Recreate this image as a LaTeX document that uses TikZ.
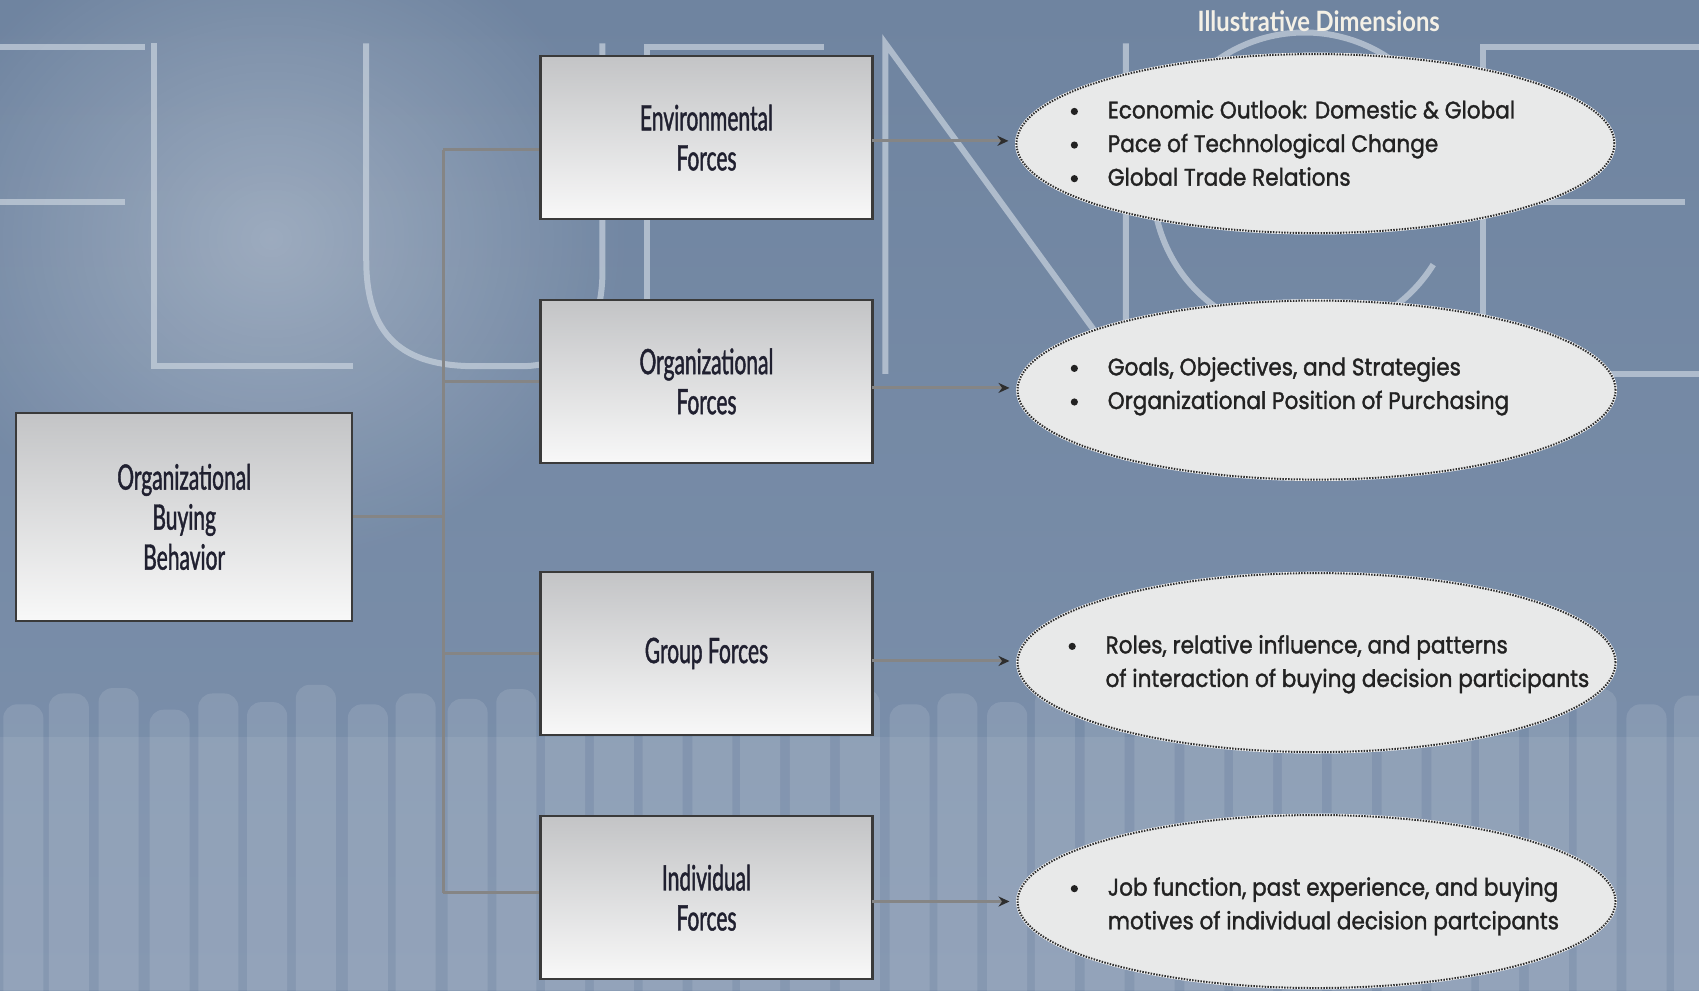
\documentclass[tikz,border=0pt]{standalone}
\usepackage{fontspec}
\usetikzlibrary{arrows.meta,shapes.geometric,calc,fadings}
\tikzfading[name=glowfade, inner color=transparent!0, outer color=transparent!100]
\newfontfamily\boxfont[FakeStretch=0.6, FakeBold=1.2]{Lato}
\newfontfamily\titlefont[FakeStretch=0.85]{Lato}
\newfontfamily\ellfont[FakeStretch=0.9, FakeBold=1.4]{Poppins}
\definecolor{bgtop}{HTML}{6F84A0}
\definecolor{bgbot}{HTML}{7D91AC}
\definecolor{lettc}{HTML}{C9D3DE}
\definecolor{boxtop}{HTML}{C3C4C6}
\definecolor{boxbot}{HTML}{F8F8F8}
\definecolor{boxline}{HTML}{3A3A3A}
\definecolor{textc}{HTML}{202030}
\definecolor{textd}{HTML}{222222}
\definecolor{ellfill}{HTML}{E8E9E9}
\definecolor{ellline}{HTML}{2E2E2E}
\definecolor{connc}{HTML}{858585}
\definecolor{arrc}{HTML}{2E2E2E}
\definecolor{ttlc}{HTML}{F4F0E6}
\newcommand\bul{\makebox[37pt][l]{\tikz[baseline=-7pt]\fill[textd] (0,0) circle[radius=3.6pt];}}
\newcommand\nobul{\makebox[37pt][l]{}}
\tikzset{
  letter/.style={draw=lettc, line width=6pt, opacity=0.7, line cap=butt},
  fencecol/.style={fill=white, opacity=0.11, rounded corners=14pt},
  fbox/.style={draw=boxline, line width=2.5pt, top color=boxtop, bottom color=boxbot,
    font=\boxfont\fontsize{35}{40}\selectfont, text=textc, align=center, inner sep=0pt,
    minimum width=332pt, minimum height=163pt},
  ell/.style={ellipse, fill=ellfill, draw=ellline, line width=2pt,
    dash pattern=on 1.5pt off 1.3pt, preaction={draw=white, line width=2.8pt, solid},
    inner sep=0pt, minimum width=598pt, minimum height=179pt},
  etext/.style={anchor=west, inner sep=0pt, align=left,
    font=\ellfont\fontsize{24}{33.6}\selectfont, text=textd},
  conn/.style={draw=connc, line width=3pt},
  arr/.style={conn, -{Stealth[length=11pt, width=10pt, color=arrc]}, shorten >=7pt},
  ttl/.style={font=\titlefont\bfseries\fontsize{28}{30}\selectfont, text=ttlc, inner sep=0pt}
}
\begin{document}
\begin{tikzpicture}[x=1.0835pt, y=-1.0835pt]
\useasboundingbox (0,0) rectangle (1568,914);
% ---------- background ----------
\begin{scope}
\clip (0,0) rectangle (1568,914);
\shade[top color=bgtop, bottom color=bgbot] (0,0) rectangle (1568,914);
\fill[white, opacity=0.30, path fading=glowfade] (250,220) ellipse [x radius=330, y radius=300];
% fence columns
\foreach \x/\t in {0/650,42/640,88/635,135/655,180/640,225/648,270/632,318/650,362/640,
  410/645,455/636,500/650,545/640,590/648,636/638,680/650,726/642,772/636,818/650,862/640,
  908/648,952/636,998/650,1044/640,1090/646,1135/636,1180/650,1226/642,1272/638,1318/650,
  1362/640,1408/646,1452/636,1498/650,1542/642}{
  \fill[fencecol] (\x+3,\t) rectangle (\x+40,960);
}
\fill[white, opacity=0.07] (0,680) rectangle (1568,914);
% large faint letters
\draw[letter] (0,43) -- (134,43);
\draw[letter] (0,186) -- (115,186);
\draw[letter] (142,40) -- (142,338) -- (326,338);
\draw[letter] (338,40) -- (338,240) .. controls (338,318) and (380,338) .. (440,338)
  -- (480,338) .. controls (536,338) and (556,300) .. (556,250) -- (556,40);
\draw[letter] (760,43) -- (597,43) -- (597,340);
\draw[letter] (817,345) -- (817,40) -- (1039,345) -- (1039,40);
\draw[letter] (1204,170) ++(32:140) arc[start angle=32, end angle=328, radius=140];
\draw[letter] (1568,43) -- (1369,43) -- (1369,345) -- (1568,345);
\draw[letter] (1369,186) -- (1555,186);
\end{scope}
% ---------- title ----------
\node[ttl] (title) at (1217,20) {Illustrative Dimensions};
% ---------- boxes ----------
\node[fbox, minimum width=336pt, minimum height=208pt] (obb) at (170,477)
  {Organizational\\Buying\\Behavior};
\node[fbox] (env) at (652,127) {Environmental\\Forces};
\node[fbox] (org) at (652,352) {Organizational\\Forces};
\node[fbox] (grp) at (652,603) {Group Forces};
\node[fbox] (ind) at (652,828.5) {Individual\\Forces};
% ---------- ellipses ----------
\node[ell] (e1) at (1214,132.5) {};
\node[ell] (e2) at (1215,360) {};
\node[ell] (e3) at (1215,611.5) {};
\node[ell, minimum height=173pt] (e4) at (1215,832) {};
\node[etext] (t1) at (988,132)
  {\bul Economic Outlook: Domestic \& Global\\
   \bul Pace of Technological Change\\
   \bul Global Trade Relations};
\node[etext] (t2) at (988,356.5)
  {\bul Goals, Objectives, and Strategies\\
   \bul Organizational Position of Purchasing};
\node[etext] (t3) at (986,613)
  {\bul Roles, relative influence, and patterns\\
   \nobul of interaction of buying decision participants};
\node[etext] (t4) at (988,836.5)
  {\bul Job function, past experience, and buying\\
   \nobul motives of individual decision partcipants};
% ---------- connectors ----------
\coordinate (bus) at (409,0);
\coordinate (jenv) at (409,138);
\coordinate (jorg) at (409,352);
\coordinate (jgrp) at (409,603);
\coordinate (jind) at (409,824);
\draw[conn] (obb.east) -- (obb.east -| bus);
\draw[conn] (jenv) -- (jind);
\draw[conn] (jenv) -- (jenv -| env.west);
\draw[conn] (jorg) -- (jorg -| org.west);
\draw[conn] (jgrp) -- (jgrp -| grp.west);
\draw[conn] (jind) -- (jind -| ind.west);
\coordinate (a1) at (805,130);
\coordinate (a2) at (805,358);
\coordinate (a3) at (805,610);
\coordinate (a4) at (805,832);
\draw[arr] (a1) -- (a1 -| e1.west);
\draw[arr] (a2) -- (a2 -| e2.west);
\draw[arr] (a3) -- (a3 -| e3.west);
\draw[arr] (a4) -- (a4 -| e4.west);
\end{tikzpicture}
\end{document}
